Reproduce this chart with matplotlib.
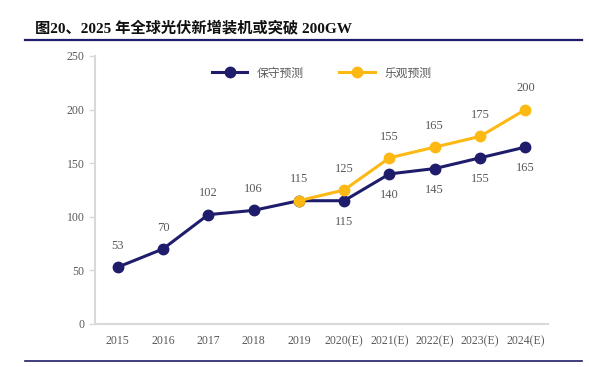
import matplotlib
matplotlib.use("Agg")
import matplotlib.pyplot as plt
from matplotlib.lines import Line2D

categories = ["2015", "2016", "2017", "2018", "2019", "2020(E)", "2021(E)",
              "2022(E)", "2023(E)", "2024(E)"]
conservative = [53, 70, 102, 106, 115, 115, 140, 145, 155, 165]
optimistic_labels = categories[4:]
optimistic = [115, 125, 155, 165, 175, 200]
yticks = [0, 50, 100, 150, 200, 250]

NAVY = "#1f1d6b"
GOLD = "#fdb913"
GRAY = "#595959"
AXIS = "#d9d9d9"

fig = plt.figure(figsize=(5.89, 3.67), dpi=100)
fig.patch.set_facecolor("white")

fam = ["Liberation Serif", "Noto Sans CJK SC"]
fig.text(35 / 589, 1 - 28 / 367, "图20、2025 年全球光伏新增装机或突破 200GW",
         family=fam, fontsize=11, fontweight="bold", color="#111111",
         va="center", ha="left")
fig.add_artist(Line2D([25 / 589, 582 / 589], [1 - 40 / 367, 1 - 40 / 367],
                      color=NAVY, lw=1.6, transform=fig.transFigure))
fig.add_artist(Line2D([25 / 589, 582 / 589], [1 - 361 / 367, 1 - 361 / 367],
                      color=NAVY, lw=1.2, transform=fig.transFigure))

ax = fig.add_axes([95 / 589, 43 / 367, 453 / 589, 268 / 367])
x_all = list(range(len(categories)))
x_opt = [categories.index(c) for c in optimistic_labels]

ax.plot(x_all, conservative, color=NAVY, lw=2.2, marker="o", ms=7.5,
        label="保守预测", zorder=3)
ax.plot(x_opt, optimistic, color=GOLD, lw=2.2, marker="o", ms=7.5,
        label="乐观预测", zorder=4)

for i, v in enumerate(conservative):
    if i <= 4:
        ax.annotate(str(v), (i, v), xytext=(0, 11), textcoords="offset points",
                    ha="center", va="bottom", family="Liberation Serif",
                    fontsize=9, color=GRAY)
    else:
        ax.annotate(str(v), (i, v), xytext=(0, -11), textcoords="offset points",
                    ha="center", va="top", family="Liberation Serif",
                    fontsize=9, color=GRAY)
for xi, v in zip(x_opt[1:], optimistic[1:]):
    ax.annotate(str(v), (xi, v), xytext=(0, 11), textcoords="offset points",
                ha="center", va="bottom", family="Liberation Serif",
                fontsize=9, color=GRAY)

ax.set_xlim(-0.5, len(categories) - 0.5)
ax.set_ylim(0, 250)
ax.set_yticks(yticks)
ax.set_xticks(x_all)
ax.set_xticklabels(categories)
for s in ["top", "right"]:
    ax.spines[s].set_visible(False)
for s in ["left", "bottom"]:
    ax.spines[s].set_color(AXIS)
    ax.spines[s].set_linewidth(1.5)
ax.tick_params(axis="y", colors=AXIS, labelcolor=GRAY, length=4, width=1)
ax.tick_params(axis="x", length=0, labelcolor=GRAY, pad=8)
for lab in ax.get_xticklabels() + ax.get_yticklabels():
    lab.set_family("Liberation Serif")
    lab.set_fontsize(8.5)

leg = ax.legend(loc="upper center", bbox_to_anchor=(0.5, 1.0), ncol=2,
                frameon=False, handlelength=3.0, columnspacing=3.0,
                prop={"family": ["Noto Sans CJK SC"], "size": 8.5})
for t in leg.get_texts():
    t.set_color(GRAY)

fig.savefig("out.png", dpi=100, facecolor="white")
